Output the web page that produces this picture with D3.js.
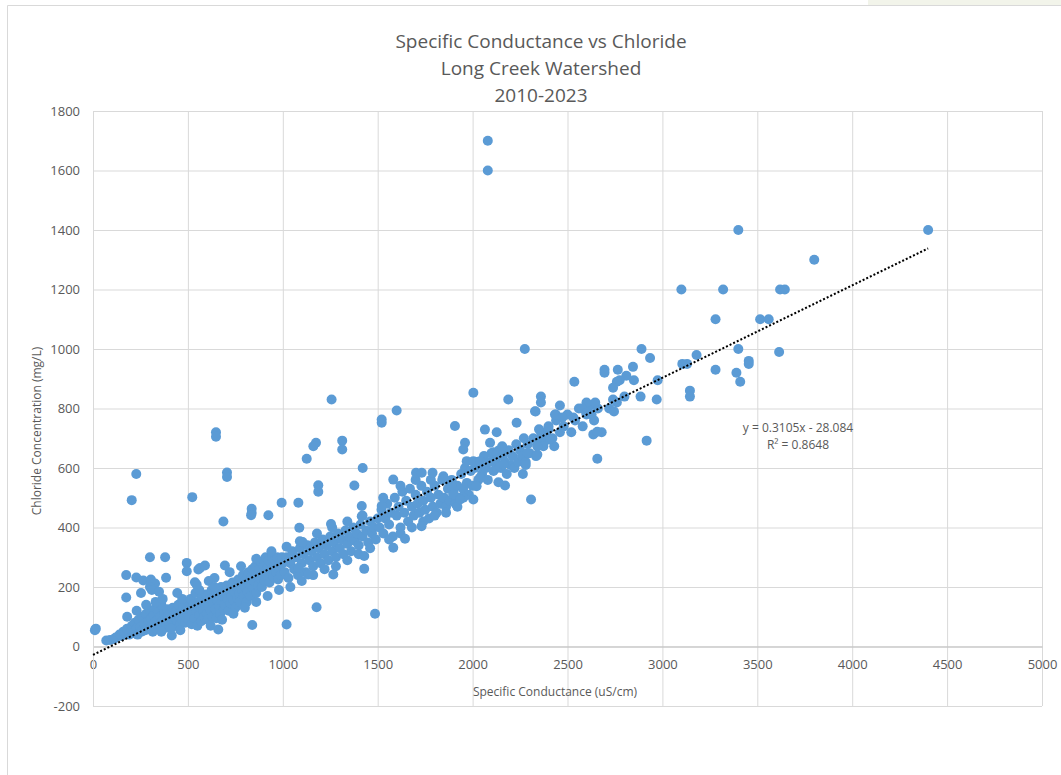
<!DOCTYPE html>
<html>
<head>
<meta charset="utf-8">
<script src="https://cdn.jsdelivr.net/npm/d3@7"></script>
<style>
  body { margin: 0; background: #fff; }
  text { font-family: "Open Sans", "Noto Sans", sans-serif; fill: #595959; }
</style>
</head>
<body>
<div id="chart"></div>
<script>
// tick values
var xTicks = [0, 500, 1000, 1500, 2000, 2500, 3000, 3500, 4000, 4500, 5000];
var yTicks = [-200, 0, 200, 400, 600, 800, 1000, 1200, 1400, 1600, 1800];

// trendline from the chart label
var slope = 0.3105, intercept = -28.084, trendMaxX = 4400;

// [conductance uS/cm, chloride mg/L]
var bandLow = [
  [10,55],[15,60],[70,20],[90,22],[110,25],[120,30],[140,40],[150,35],[160,50],[170,45],
  [180,60],[190,40],[200,55],[205,70],[210,45],[220,80],[230,60],[235,40],[240,90],[250,65],
  [255,50],[260,100],[270,75],[275,55],[280,110],[290,85],[295,60],[300,120],[305,95],[310,70],
  [315,50],[320,105],[325,80],[330,130],[335,60],[340,90],[345,115],[350,75],[355,100],[360,140],
  [365,85],[370,60],[375,110],[380,95],[385,70],[390,125],[395,100],[400,80],[405,110],[415,37],
  [415,90],[420,130],[425,105],[430,70],[435,95],[440,120],[445,85],[450,140],[455,100],[460,75],
  [465,115],[470,90],[475,130],[480,105],[485,80],[490,120],[495,95],[500,150],
  [180,100],[230,120],[280,140],[330,150],[360,50],[410,60],[460,55],[470,160]
];

var bandMid = [
  [505,90],[510,130],[515,160],[520,75],[525,110],[530,140],[535,95],[540,180],[545,120],[550,70],
  [555,150],[560,105],[565,130],[570,85],[575,165],[580,120],[585,100],[590,145],[595,175],[600,110],
  [605,90],[610,135],[615,160],[620,120],[625,190],[630,100],[635,145],[640,170],[645,125],[650,95],
  [655,155],[660,185],[665,135],[670,110],[675,200],[680,150],[685,170],[690,125],[695,140],[700,180],
  [705,205],[710,160],[715,120],[720,190],[725,145],[730,170],[735,215],[740,155],[745,185],[750,130],
  [755,200],[760,165],[765,225],[770,180],[775,150],[780,210],[785,190],[790,240],[795,170],[800,200],
  [805,225],[810,150],[815,185],[820,250],[825,210],[830,170],[835,235],[840,260],[845,195],[850,220],
  [855,270],[860,180],[865,240],[870,205],[875,260],[880,230],[885,285],[890,200],[895,250],[900,270],
  [905,220],[910,300],[915,240],[920,265],[925,290],[930,215],[935,255],[940,280],[945,300],[950,235],
  [955,270],[960,290],[965,250],[970,300],[975,225],[980,275],[985,260],[990,240],[995,300],[1000,280],
  [1010,250],[1020,300],[1030,230],[1040,280],[1050,320],[1060,260],[1070,300],[1080,240],[1090,330],[1100,280],
  [1110,310],[1120,250],[1130,340],[1140,290],[1150,320],[1160,270],[1170,350],[1180,300],[1190,330],[1200,280],
  [1210,360],[1220,310],[1230,340],[1240,290],[1250,370],[1260,320],[1270,350],[1280,300],[1290,380],[1300,330],
  [1310,360],[1320,310],[1330,390],[1340,345],[1350,370],[1360,320],[1370,400],[1380,355],[1390,380],[1400,340],
  [1410,410],[1420,370],[1440,390],[1450,350],[1460,420],[1470,380],[1480,400],[1490,360],[1500,430],
  [620,70],[680,90],[740,110],[800,130],[860,150],[920,170],[980,190],[1040,200],[1100,220],[1160,240],
  [1220,260],[1280,270],[1340,290],[1400,310],[1460,330],[560,190],[640,230],[720,250],[780,270],[860,295],
  [940,320],[1020,335],[1100,350],[1180,380],[1260,400],[1340,420],[1420,440]
];

var bandUpper = [
  [1510,400],[1520,460],[1530,380],[1540,430],[1550,480],[1560,410],[1570,450],[1580,370],[1590,500],[1600,440],
  [1610,470],[1620,400],[1630,520],[1640,450],[1650,490],[1660,420],[1670,530],[1680,470],[1690,440],[1700,510],
  [1710,480],[1720,450],[1730,540],[1740,490],[1750,460],[1760,520],[1770,430],[1780,500],[1790,470],[1800,540],
  [1810,450],[1820,510],[1830,480],[1840,560],[1850,500],[1860,470],[1870,530],[1880,490],[1890,560],[1900,520],
  [1910,480],[1920,540],[1930,500],[1940,580],[1950,530],[1960,600],[1970,550],[1980,510],[1990,590],[2000,540],
  [2010,600],[2020,620],[2030,560],[2040,610],[2050,580],[2060,640],[2070,600],[2080,560],[2090,620],[2100,650],
  [2110,590],[2120,630],[2130,610],[2140,660],[2150,600],[2160,640],[2170,620],[2180,580],[2190,660],[2200,610],
  [2210,640],[2220,600],[2230,680],[2240,620],[2250,660],[2260,640],[2270,700],[2280,620],[2290,680],[2300,650],
  [2320,700],[2340,680],[2360,720],[2380,690],[2400,740],[2420,700],[2440,760],[2460,720],[2480,740],[2500,780],
  [2520,720],[2540,760],[2560,800],[2580,740],[2600,780],[2620,810],[2640,760],[2660,800],[2680,720],
  [1560,360],[1620,380],[1680,400],[1740,420],[1800,440],[1860,450],[1920,470],[1620,540],[1700,560],[1780,560]
];

var scatterAbove = [
  [175,240],[175,165],[228,232],[265,222],[305,225],[327,212],[300,200],[310,190],[385,231],[253,180],
  [348,184],[367,160],[444,180],[494,281],[494,253],[555,259],[564,264],[590,272],[537,216],[546,208],
  [695,272],[300,300],[380,300],[204,492],[228,580],[523,502],[687,420],[648,720],[648,705],[706,585],
  [706,570],[610,220],[640,200],[836,463],[836,449],[833,441],[924,441],[994,483],[1082,483],[1187,542],
  [1187,520],[1254,412],[1087,399],[1090,354],[1104,351],[1082,264],[1175,685],[1161,673],[1126,631],[1313,692],
  [1313,662],[1257,830],[1421,600],[1377,541],[1600,793],[1521,763],[1521,752],[1907,741],[2004,853],[2188,830],
  [1582,561],[1702,584],[1732,584],[1789,584],[1846,572],[1850,561],[2065,729],[2127,720],[2092,685],[2156,673],
  [1960,685],[1951,662],[1969,623],[2004,623],[2039,623],[2232,752],[2329,791],[2434,780],[2109,653],[2127,649]
];

var scatterBelow = [
  [660,57],[839,72],[1020,74],[1178,132],[1486,110],[1266,242],[1134,242],[1429,304],[1429,261],[1582,332],
  [1644,362],[1731,404],[1416,472],[1416,438],[1521,472],[1529,500],[1889,541],[1898,511],[1951,500],[1934,494],
  [2004,494],[2039,567],[2021,539],[2171,541],[2136,552],[2127,600],[2144,606],[2162,612],[2308,494],[2265,580],
  [2280,610],[2290,650],[2657,631],[2917,692]
];

var highRange = [
  [2080,1700],[2080,1600],[4400,1400],[3400,1400],[3800,1300],[3100,1200],[3320,1200],[3620,1200],[3645,1200],[3280,1100],
  [3515,1100],[3560,1100],[3400,1000],[3615,990],[3455,960],[3455,950],[3280,930],[3390,920],[3410,890],[3130,950],
  [3105,950],[3180,980],[2935,970],[2890,1000],[2275,1000],[3145,860],[3145,840],[2970,830],[2975,895],[2885,840],
  [2850,895],[2845,940],[2765,930],[2695,930],[2695,920],[2810,910],[2775,895],[2760,890],[2740,870],[2740,830],
  [2800,840],[2760,820],[2720,800],[2745,790],[2646,820],[2600,820],[2576,800],[2536,890],[2360,840],[2360,820],
  [2460,810],[2332,790],[2438,780],[2473,770],[2531,770],[2600,785],[2627,780],[2350,730],[2400,730],[2364,707],
  [2390,705],[2355,685],[2373,673],[2334,640],[2430,673],[2636,713],[2657,722],[2341,645],[2341,673],[2408,696]
];

var points = [].concat(bandLow, bandMid, bandUpper, scatterAbove, scatterBelow, highRange);

var W = 1061, H = 775;
var plot = {left: 93, top: 111, right: 1042, bottom: 706};
var fmt = function(d) { return String(d); };

var svg = d3.select("#chart").append("svg")
    .attr("width", W)
    .attr("height", H);

// chart area frame
svg.append("rect")
    .attr("x", 868).attr("y", 0).attr("width", 193).attr("height", 5)
    .attr("fill", "#f2f4ea");
svg.append("path")
    .attr("d", "M7.5,775V5.5H1061")
    .attr("fill", "none")
    .attr("stroke", "#d9d9d9");

var x = d3.scaleLinear().domain([0, 5000]).range([plot.left, plot.right]);
var y = d3.scaleLinear().domain([-200, 1800]).range([plot.bottom, plot.top]);

// gridlines
svg.append("g")
    .attr("transform", "translate(0," + plot.bottom + ")")
    .call(d3.axisBottom(x).tickValues(xTicks).tickSize(-(plot.bottom - plot.top)).tickFormat(""))
    .call(g => g.select(".domain").remove())
    .call(g => g.selectAll("line").attr("stroke", "#d9d9d9"));
svg.append("g")
    .attr("transform", "translate(" + plot.left + ",0)")
    .call(d3.axisLeft(y).tickValues(yTicks).tickSize(-(plot.right - plot.left)).tickFormat(""))
    .call(g => g.select(".domain").remove())
    .call(g => g.selectAll("line").attr("stroke", "#d9d9d9"));

// axis labels
svg.append("g")
    .attr("transform", "translate(0," + y(0) + ")")
    .call(d3.axisBottom(x).tickValues(xTicks).tickSize(0).tickPadding(13).tickFormat(fmt))
    .call(g => g.select(".domain").attr("stroke", "#bfbfbf"))
    .call(g => g.selectAll("text").style("font-size", "13px").attr("fill", "#595959").style("font-family", null));
svg.append("g")
    .attr("transform", "translate(" + plot.left + ",0)")
    .call(d3.axisLeft(y).tickValues(yTicks).tickSize(0).tickPadding(13).tickFormat(fmt))
    .call(g => g.select(".domain").attr("stroke", "#d9d9d9"))
    .call(g => g.selectAll("text").style("font-size", "13px").attr("fill", "#595959").style("font-family", null));

// points
svg.append("g").selectAll("circle")
    .data(points)
  .enter().append("circle")
    .attr("cx", d => x(d[0]))
    .attr("cy", d => y(d[1]))
    .attr("r", 5)
    .attr("fill", "#5b9bd5");

// trendline
svg.append("line")
    .attr("x1", x(0)).attr("y1", y(intercept))
    .attr("x2", x(trendMaxX)).attr("y2", y(slope * trendMaxX + intercept))
    .attr("stroke", "#000")
    .attr("stroke-width", 2)
    .attr("stroke-dasharray", "2,2");

svg.append("text")
    .attr("x", 798).attr("y", 432)
    .attr("text-anchor", "middle")
    .style("font-size", "12px")
    .text("y = 0.3105x - 28.084");
svg.append("text")
    .attr("x", 798).attr("y", 449)
    .attr("text-anchor", "middle")
    .style("font-size", "12px")
    .text("R² = 0.8648");

// titles
var titles = ["Specific Conductance vs Chloride", "Long Creek Watershed", "2010-2023"];
svg.selectAll(".title")
    .data(titles)
  .enter().append("text")
    .attr("class", "title")
    .attr("x", 541)
    .attr("y", (d, i) => 48 + i * 27)
    .attr("text-anchor", "middle")
    .style("font-size", "19px")
    .text(d => d);

svg.append("text")
    .attr("x", 555)
    .attr("y", 696)
    .attr("text-anchor", "middle")
    .style("font-size", "12px")
    .text("Specific Conductance (uS/cm)");

svg.append("text")
    .attr("transform", "translate(41,431) rotate(-90)")
    .attr("text-anchor", "middle")
    .style("font-size", "12px")
    .text("Chloride Concentration (mg/L)");
</script>
</body>
</html>
